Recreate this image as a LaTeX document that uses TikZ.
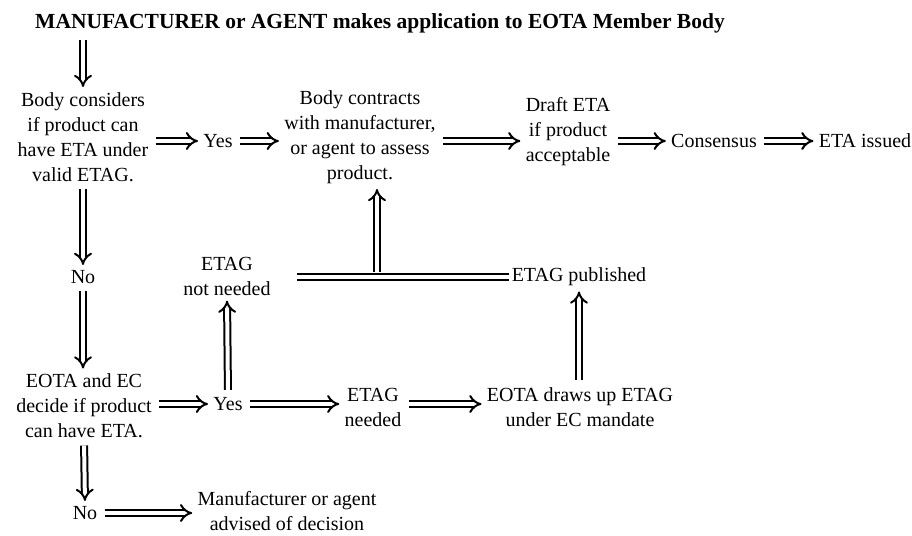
\documentclass[tikz,border=0pt]{standalone}
\usepackage{fontspec}
\setmainfont{Liberation Serif}
\usetikzlibrary{arrows.meta, positioning}

\begin{document}
\begin{tikzpicture}[x=1pt, y=-1pt,
  thick,
  every node/.style={font=\fontsize{20}{25}\selectfont, align=center, inner sep=2pt}, % text sizes follow the scanned chart
  flow/.style={double, double distance=4pt, line width=2pt, -{Implies}, shorten >=3pt, shorten <=5pt},
  bar/.style={double, double distance=4pt, line width=2pt}]

  \useasboundingbox (0,0) rectangle (912,535);

  \node (app) at (380,23) {\fontsize{21.5}{25}\selectfont\textbf{MANUFACTURER or AGENT makes application to EOTA Member Body}};
  \node (body) at (83,137) {Body considers\\if product can\\have ETA under\\valid ETAG.};
  \node (yes1) at (218,141) {Yes};
  \node (contract) at (360,137) {Body contracts\\with manufacturer,\\or agent to assess\\product.};
  \node (draft) at (568,132) {Draft ETA\\if product\\acceptable};
  \node (cons) at (714,141) {Consensus};
  \node (issued) at (865,141) {ETA issued};

  \node (no1) at (83,277) {No};
  \node (notneed) at (227,276) {ETAG\\not needed};
  \node (pub) at (579,277) {ETAG published};
  \coordinate (stub) at (297,277);
  \coordinate (tee) at (377,277);

  \node (decide) at (84,406) {EOTA and EC\\decide if product\\can have ETA.};
  \node (yes2) at (228,404) {Yes};
  \node (needed) at (373,407) {ETAG\\needed};
  \node (draws) at (580,407) {EOTA draws up ETAG\\under EC mandate};

  \node (no2) at (85,513) {No};
  \node (advised) at (287,511) {Manufacturer or agent\\advised of decision};

  % main line
  \draw[flow] (body |- app.south) -- (body.north);
  \draw[flow] (body.east |- yes1) -- (yes1.west);
  \draw[flow] (yes1.east) -- (yes1 -| contract.west);
  \draw[flow] (contract.east |- cons) -- (draft.west |- cons);
  \draw[flow] (draft.east |- cons) -- (cons.west);
  \draw[flow] (cons.east) -- (issued.west);

  % no ETAG yet
  \draw[flow] (body.south) -- (no1.north);
  \draw[flow] (no1.south) -- (no1 |- decide.north);
  \draw[flow] (decide.east |- yes2) -- (yes2.west);
  \draw[flow] (yes2.north) -- (notneed.south);
  \draw[flow] (yes2.east) -- (needed.west |- yes2);
  \draw[flow] (needed.east |- yes2) -- (draws.west |- yes2);
  \draw[flow] (draws.north -| pub.south) -- (pub.south);
  \draw[bar] (stub) -- (pub.west);
  \draw[flow] (tee) -- (tee |- contract.south);

  % refused
  \draw[flow] (decide.south) -- (no2.north);
  \draw[flow] (no2.east) -- (advised.west |- no2);
\end{tikzpicture}
\end{document}
